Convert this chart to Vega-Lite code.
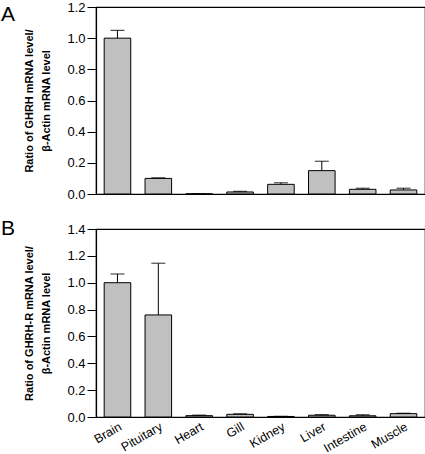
{
  "$schema": "https://vega.github.io/schema/vega-lite/v6.json",
  "padding": {"left": 0, "top": 0, "right": 0, "bottom": 0},
  "background": "white",
  "datasets": {
    "ghrh": [
      {"tissue": "Brain", "value": 1.0, "upper": 1.05},
      {"tissue": "Pituitary", "value": 0.1, "upper": 0.104},
      {"tissue": "Heart", "value": 0.001, "upper": 0.002},
      {"tissue": "Gill", "value": 0.013, "upper": 0.017},
      {"tissue": "Kidney", "value": 0.062, "upper": 0.072},
      {"tissue": "Liver", "value": 0.15, "upper": 0.21},
      {"tissue": "Intestine", "value": 0.03, "upper": 0.037},
      {"tissue": "Muscle", "value": 0.026, "upper": 0.037}
    ],
    "ghrhr": [
      {"tissue": "Brain", "value": 1.0, "upper": 1.065},
      {"tissue": "Pituitary", "value": 0.76, "upper": 1.145},
      {"tissue": "Heart", "value": 0.01, "upper": 0.014},
      {"tissue": "Gill", "value": 0.02, "upper": 0.024},
      {"tissue": "Kidney", "value": 0.004, "upper": 0.005},
      {"tissue": "Liver", "value": 0.013, "upper": 0.018},
      {"tissue": "Intestine", "value": 0.009, "upper": 0.017},
      {"tissue": "Muscle", "value": 0.025, "upper": 0.028}
    ]
  },
  "config": {
    "font": "Liberation Sans",
    "view": {"stroke": "black", "strokeWidth": 1.2},
    "axis": {
      "domainColor": "black",
      "domainWidth": 1.2,
      "tickColor": "black",
      "labelColor": "black",
      "titleColor": "black",
      "grid": false,
      "labelOverlap": false,
      "labelFont": "Liberation Sans",
      "titleFont": "Liberation Sans"
    },
    "axisY": {
      "labelFontSize": 13,
      "tickSize": 9,
      "labelPadding": 2,
      "titleFontSize": 11,
      "titleFontWeight": "bold",
      "titlePadding": 15,
      "titleLineHeight": 17
    }
  },
  "spacing": 15,
  "vconcat": [
    {
      "width": 329,
      "height": 187,
      "title": {"text": "A", "anchor": "start", "frame": "group", "fontSize": 21, "fontWeight": "normal", "font": "Liberation Sans", "color": "black", "baseline": "top", "offset": 0, "dx": -95, "dy": 24},
      "data": {"name": "ghrh"},
      "encoding": {
        "x": {"field": "tissue", "type": "nominal", "sort": null,
              "scale": {"paddingInner": 0.35, "paddingOuter": 0.2},
              "axis": {"title": null, "labels": false, "ticks": false}}
      },
      "layer": [
        {
          "mark": {"type": "bar", "fill": "#c0c0c0", "stroke": "black", "strokeWidth": 1},
          "encoding": {
            "y": {"field": "value", "type": "quantitative",
                  "scale": {"domain": [0, 1.2], "nice": false},
                  "axis": {"values": [0, 0.2, 0.4, 0.6, 0.8, 1.0, 1.2], "format": ".1f", "title": ["Ratio of GHRH mRNA level/", "β-Actin mRNA level"]}}
          }
        },
        {
          "mark": {"type": "rule", "color": "black", "strokeWidth": 1},
          "encoding": {
            "y": {"field": "value", "type": "quantitative",
                  "axis": {"values": [0, 0.2, 0.4, 0.6, 0.8, 1.0, 1.2], "format": ".1f", "title": ["Ratio of GHRH mRNA level/", "β-Actin mRNA level"]}},
            "y2": {"field": "upper"}
          }
        },
        {
          "mark": {"type": "tick", "color": "black", "size": 14, "thickness": 1.2},
          "encoding": {
            "y": {"field": "upper", "type": "quantitative",
                  "axis": {"values": [0, 0.2, 0.4, 0.6, 0.8, 1.0, 1.2], "format": ".1f", "title": ["Ratio of GHRH mRNA level/", "β-Actin mRNA level"]}}
          }
        }
      ]
    },
    {
      "width": 329,
      "height": 188,
      "title": {"text": "B", "anchor": "start", "frame": "group", "fontSize": 21, "fontWeight": "normal", "font": "Liberation Sans", "color": "black", "baseline": "top", "offset": 0, "dx": -95, "dy": 16},
      "data": {"name": "ghrhr"},
      "encoding": {
        "x": {"field": "tissue", "type": "nominal", "sort": null,
              "scale": {"paddingInner": 0.35, "paddingOuter": 0.2},
              "axis": {"title": null, "ticks": false, "labelAngle": -30, "labelFontSize": 12.5, "labelPadding": 3}}
      },
      "layer": [
        {
          "mark": {"type": "bar", "fill": "#c0c0c0", "stroke": "black", "strokeWidth": 1},
          "encoding": {
            "y": {"field": "value", "type": "quantitative",
                  "scale": {"domain": [0, 1.4], "nice": false},
                  "axis": {"values": [0, 0.2, 0.4, 0.6, 0.8, 1.0, 1.2, 1.4], "format": ".1f", "title": ["Ratio of GHRH-R mRNA level/", "β-Actin mRNA level"]}}
          }
        },
        {
          "mark": {"type": "rule", "color": "black", "strokeWidth": 1},
          "encoding": {
            "y": {"field": "value", "type": "quantitative",
                  "axis": {"values": [0, 0.2, 0.4, 0.6, 0.8, 1.0, 1.2, 1.4], "format": ".1f", "title": ["Ratio of GHRH-R mRNA level/", "β-Actin mRNA level"]}},
            "y2": {"field": "upper"}
          }
        },
        {
          "mark": {"type": "tick", "color": "black", "size": 14, "thickness": 1.2},
          "encoding": {
            "y": {"field": "upper", "type": "quantitative",
                  "axis": {"values": [0, 0.2, 0.4, 0.6, 0.8, 1.0, 1.2, 1.4], "format": ".1f", "title": ["Ratio of GHRH-R mRNA level/", "β-Actin mRNA level"]}}
          }
        }
      ]
    }
  ]
}
